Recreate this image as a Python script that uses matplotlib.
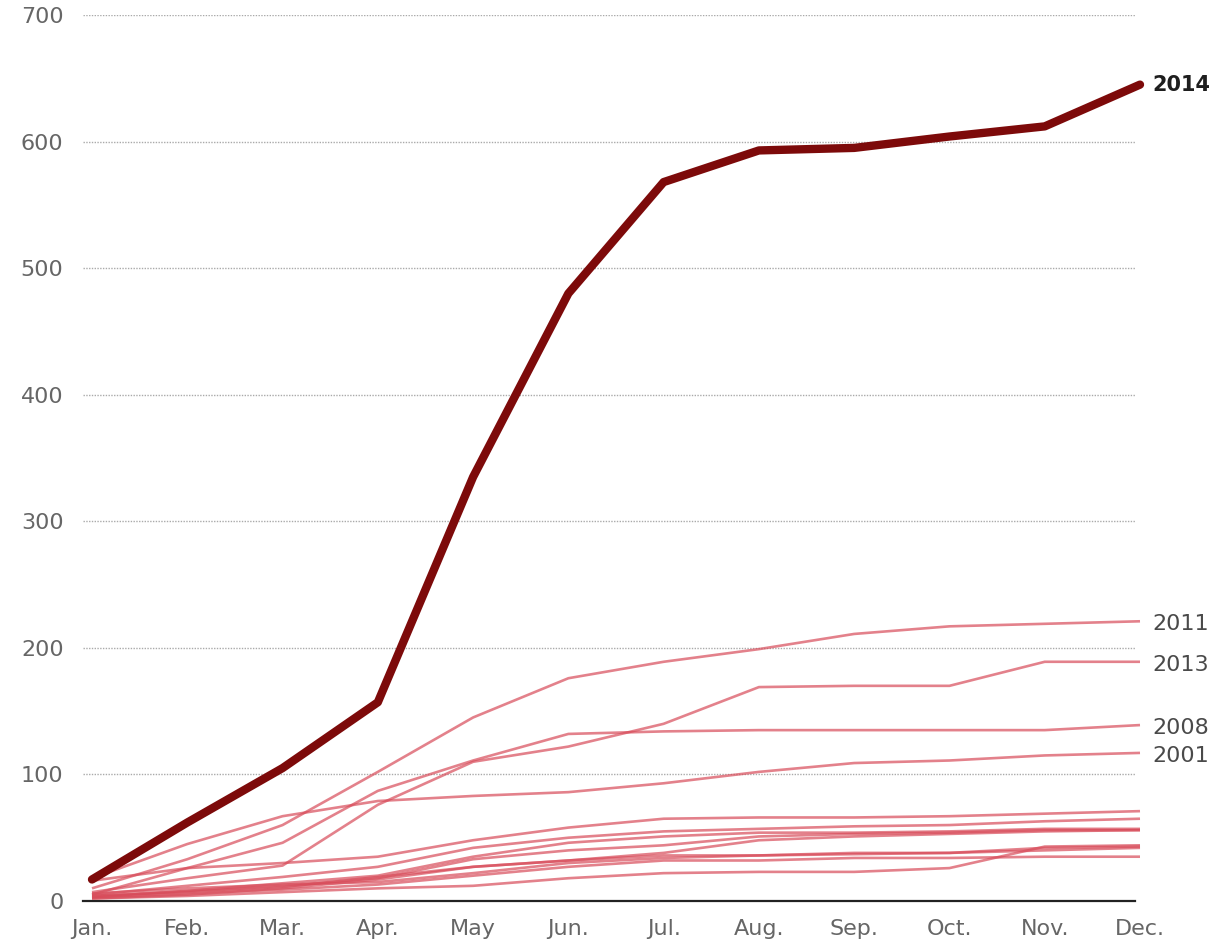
import matplotlib
matplotlib.use("Agg")
import matplotlib.pyplot as plt
import numpy as np

# months on the x axis
months = ["Jan.", "Feb.", "Mar.", "Apr.", "May", "Jun.", "Jul.", "Aug.", "Sep.", "Oct.", "Nov.", "Dec."]

# cumulative counts
y2014 = [17, 62, 105, 157, 335, 480, 568, 593, 595, 604, 612, 645]
y2011 = [10, 33, 60, 102, 145, 176, 189, 199, 211, 217, 219, 221]
y2013 = [7, 18, 28, 76, 110, 122, 140, 169, 170, 170, 189, 189]
y2008 = [5, 26, 46, 87, 111, 132, 134, 135, 135, 135, 135, 139]
y2001 = [18, 45, 67, 79, 83, 86, 93, 102, 109, 111, 115, 117]

# the unlabeled years at the bottom
others = [
    [16, 26, 30, 35, 48, 58, 65, 66, 66, 67, 69, 71],
    [5, 12, 19, 27, 42, 50, 55, 57, 59, 60, 63, 65],
    [3, 8, 14, 20, 35, 46, 51, 54, 54, 55, 57, 57],
    [4, 7, 12, 18, 33, 40, 44, 51, 53, 54, 56, 56],
    [2, 5, 10, 17, 27, 32, 38, 48, 51, 53, 55, 56],
    [4, 8, 11, 19, 27, 32, 36, 36, 38, 38, 42, 43],
    [3, 6, 9, 13, 20, 27, 32, 32, 34, 34, 35, 35],
    [2, 4, 7, 10, 12, 18, 22, 23, 23, 26, 43, 44],
    [6, 10, 13, 15, 22, 30, 34, 36, 37, 38, 40, 42],
]

labeled = [("2011", y2011), ("2013", y2013), ("2008", y2008), ("2001", y2001)]
yticks = [0, 100, 200, 300, 400, 500, 600, 700]

plt.rcParams["font.family"] = ["DejaVu Sans"]

W, H = 1214, 943
fig = plt.figure(figsize=(W / 100, H / 100), dpi=100)
left, right, bottom, top = 83, 1150, 901, 15
ax = fig.add_axes([left / W, 1 - bottom / H, (right - left) / W, (bottom - top) / H])

step = (1140 - 92) / 11
x = np.arange(len(months))
ax.set_xlim(-(92 - left) / step, 11 + (right - 1140) / step)
ax.set_ylim(0, 700)

light = "#d84c5a"
for ys in others:
    ax.plot(x, ys, color=light, lw=1.9, alpha=0.7, clip_on=False, solid_capstyle="butt")
for name, ys in labeled:
    ax.plot(x, ys, color=light, lw=1.9, alpha=0.7, clip_on=False, solid_capstyle="butt")
    ax.annotate(name, (x[-1], ys[-1]), xytext=(9, -2), textcoords="offset points",
                color="#4a4a4a", fontsize=16, va="center", ha="left")

ax.plot(x, y2014, color="#7d0a0a", lw=6, clip_on=False, solid_capstyle="round", zorder=5)
ax.annotate("2014", (x[-1], y2014[-1]), xytext=(9, 0), textcoords="offset points",
            color="#1e1e1e", fontsize=15, fontweight="bold", va="center", ha="left")

# grid lines and baseline
gx0 = -(92 - 83) / step
gx1 = 11 - (1140 - 1135) / step
for t in yticks[1:]:
    ax.plot([gx0, gx1], [t, t], color="#aaaaaa", lw=1.0, ls=(0, (1, 1)), zorder=0)
ax.plot([gx0, gx1], [0, 0], color="#222222", lw=1.6, zorder=1, clip_on=False)

for s in ax.spines.values():
    s.set_visible(False)
ax.set_xticks(x)
ax.set_xticklabels(months)
ax.set_yticks(yticks)
ax.tick_params(length=0, labelsize=16, labelcolor="#666666")
ax.tick_params(axis="x", pad=13)
ax.tick_params(axis="y", pad=14)

fig.savefig("out.png", dpi=100, facecolor="white")
